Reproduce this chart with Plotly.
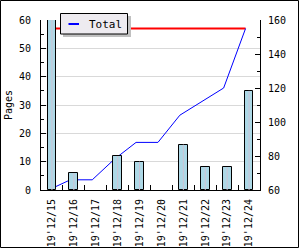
import plotly.graph_objects as go

categories = ["19'12/15", "19'12/16", "19'12/17", "19'12/18", "19'12/19",
              "19'12/20", "19'12/21", "19'12/22", "19'12/23", "19'12/24"]
pages = [60, 6, 0, 12, 10, 0, 16, 8, 8, 35]
total = [60, 66, 66, 78, 88, 88, 104, 112, 120, 155]
target = [155] * len(categories)

W, H = 300, 250
L, R, T, B = 41, 40, 20, 60
PW, PH = W - L - R, H - T - B


def px(x):
    return (x - L) / PW


def py(y):
    return (H - B - y) / PH


FONT = "DejaVu Sans Mono"
shift = 0.16

fig = go.Figure()
# lines on main subplot (drawn below bars)
fig.add_trace(go.Scatter(x=categories, y=target, mode="lines",
                         line=dict(color="#ff0000", width=2),
                         xaxis="x", yaxis="y", showlegend=False, hoverinfo="skip"))
fig.add_trace(go.Scatter(x=categories, y=total, mode="lines", name="Total",
                         line=dict(color="#0000ff", width=1),
                         xaxis="x", yaxis="y", showlegend=False))
# bars on overlay subplot
fig.add_trace(go.Bar(x=categories, y=pages, width=0.4, name="Pages",
                     marker=dict(color="#add8e6",
                                 line=dict(color="black", width=[1 if v else 0 for v in pages])),
                     error_y=dict(type="data", symmetric=False,
                                  array=[0] * len(pages), arrayminus=pages,
                                  color="#cdc4d6", thickness=1, width=0),
                     xaxis="x2", yaxis="y2", showlegend=False))

n = len(categories)
shapes = [
    # outer frame
    dict(type="rect", xref="paper", yref="paper",
         x0=px(0.5), x1=px(298.5), y0=py(247.5), y1=py(0.5),
         line=dict(color="black", width=1), layer="above"),
    # legend shadow
    dict(type="rect", xref="paper", yref="paper",
         x0=px(63), x1=px(131), y0=py(37), y1=py(16),
         fillcolor="#c0c0c0", line=dict(width=0), layer="above"),
    # legend box
    dict(type="rect", xref="paper", yref="paper",
         x0=px(60.5), x1=px(127.5), y0=py(34), y1=py(13.5),
         fillcolor="#eeebf0", line=dict(color="black", width=1), layer="above"),
    # legend sample
    dict(type="line", xref="paper", yref="paper",
         x0=px(68.5), x1=px(79), y0=py(24), y1=py(24),
         line=dict(color="#0000ff", width=2), layer="above"),
]
annotations = [
    dict(text="Total", xref="paper", yref="paper", x=px(87), y=py(24),
         xanchor="left", yanchor="middle", showarrow=False,
         font=dict(family=FONT, size=11, color="black")),
]

fig.update_layout(
    width=W, height=H,
    margin=dict(l=L, r=R, t=T, b=B, pad=0),
    paper_bgcolor="white", plot_bgcolor="white",
    font=dict(family=FONT, size=10, color="black"),
    bargap=0,
    xaxis=dict(type="category", range=[-0.5 + shift, n - 0.5 + shift],
               visible=False, fixedrange=True),
    yaxis=dict(side="right", range=[60, 160], dtick=20, automargin=False,
               showline=True, linecolor="black", linewidth=1,
               ticks="inside", ticklen=5, tickcolor="black", ticklabelstandoff=5,
               minor=dict(ticks="inside", ticklen=3, dtick=10, tickcolor="black", showgrid=False),
               showgrid=False, zeroline=False,
               tickfont=dict(family=FONT, size=10)),
    xaxis2=dict(type="category", overlaying="x", range=[-0.5, n - 0.5], automargin=False,
                showline=True, linecolor="black", linewidth=1,
                ticks="inside", ticklen=5, tickcolor="black", tickson="boundaries",
                tickangle=-90, showgrid=False, ticklabelstandoff=4,
                tickfont=dict(family=FONT, size=10)),
    yaxis2=dict(overlaying="y", side="left", anchor="x2", range=[0, 60], dtick=10,
                automargin=False,
                showline=True, linecolor="black", linewidth=1,
                ticks="inside", ticklen=5, tickcolor="black", ticklabelstandoff=7,
                minor=dict(ticks="inside", ticklen=3, dtick=5, tickcolor="black", showgrid=False),
                showgrid=True, gridcolor="#d9d9d9", gridwidth=1, zeroline=False,
                title=dict(text="Pages", font=dict(family=FONT, size=10), standoff=4),
                tickfont=dict(family=FONT, size=10)),
    shapes=shapes,
    annotations=annotations,
)

fig.write_html("out.html", config={"displayModeBar": False})
